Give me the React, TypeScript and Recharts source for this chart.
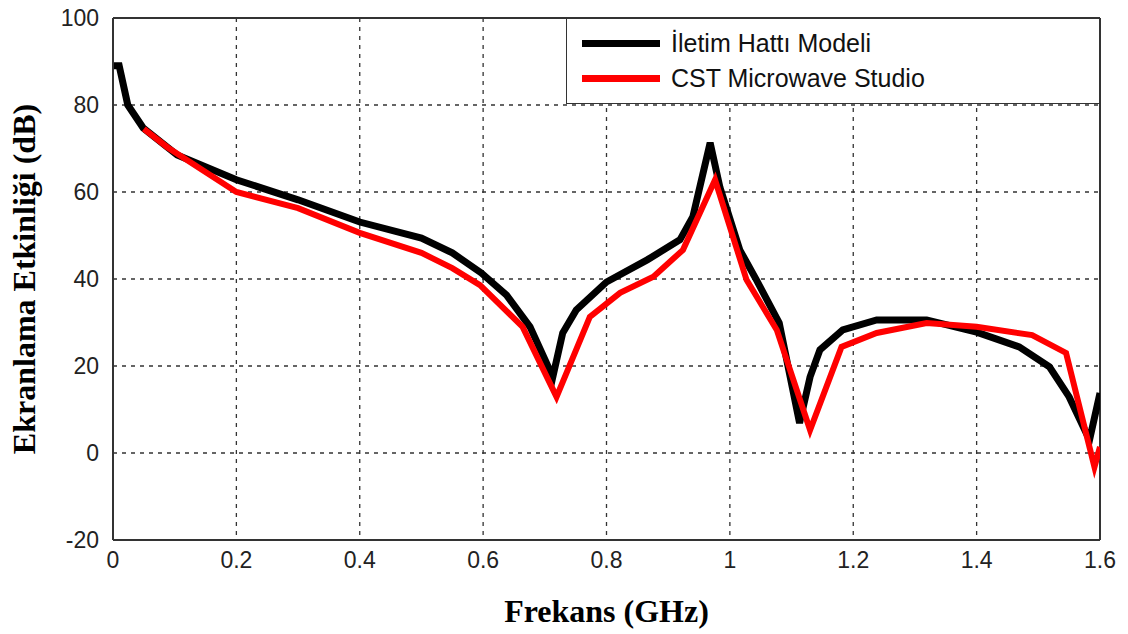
import {
  CartesianGrid,
  Line,
  LineChart,
  ReferenceLine,
  XAxis,
  YAxis
} from "recharts";

// İletim Hattı Modeli (black)
const modelFreq = [0, 0.01, 0.024, 0.049, 0.104, 0.2, 0.3, 0.4, 0.5, 0.55, 0.597, 0.638, 0.676, 0.713, 0.729, 0.751, 0.8, 0.866, 0.919, 0.94, 0.968, 0.984, 1.016, 1.043, 1.08, 1.113, 1.13, 1.146, 1.183, 1.238, 1.319, 1.4, 1.469, 1.518, 1.55, 1.583, 1.6];
const modelSE = [89, 89, 80, 74.7, 68.5, 62.8, 58.2, 53.1, 49.4, 46, 41.4, 36.3, 29, 17.5, 27.6, 32.9, 39.3, 44.4, 49, 54.3, 71.3, 61, 46.7, 39.8, 29.9, 6.9, 17.5, 23.7, 28.3, 30.6, 30.6, 27.8, 24.4, 19.8, 12.9, 3, 13.8];

// CST Microwave Studio (red)
const cstFreq = [0.05, 0.088, 0.2, 0.3, 0.4, 0.5, 0.55, 0.595, 0.664, 0.719, 0.773, 0.822, 0.876, 0.924, 0.976, 1.027, 1.076, 1.13, 1.181, 1.238, 1.319, 1.4, 1.49, 1.545, 1.591, 1.6];
const cstSE = [74.5, 70.3, 60, 56.3, 50.6, 46, 42.5, 38.6, 29, 12.9, 31.3, 36.8, 40.5, 46.7, 62.8, 39.8, 28.3, 5.3, 24.4, 27.6, 29.9, 29, 27.1, 23, -3.2, 1.4];

const xTicks = [0, 0.2, 0.4, 0.6, 0.8, 1, 1.2, 1.4, 1.6];
const yTicks = [-20, 0, 20, 40, 60, 80, 100];

const modelData = modelFreq.map((f, i) => ({ f, se: modelSE[i] }));
const cstData = cstFreq.map((f, i) => ({ f, se: cstSE[i] }));

const tickStyle = { fill: "#222", fontSize: 23, fontFamily: "Liberation Sans, Arial, sans-serif" };
const labelFont = "Liberation Serif, 'Times New Roman', serif";

function LegendBox() {
  const items = [
    { name: "İletim Hattı Modeli", color: "#000" },
    { name: "CST Microwave Studio", color: "#ff0000" }
  ];
  return (
    <div
      style={{
        position: "absolute",
        left: 566,
        top: 18,
        width: 534,
        height: 86,
        border: "1.5px solid #333",
        background: "#fff",
        boxSizing: "border-box",
        paddingTop: 7
      }}
    >
      {items.map((it) => (
        <div key={it.name} style={{ display: "flex", alignItems: "center", height: 35 }}>
          <div style={{ width: 78, height: 7, background: it.color, marginLeft: 15, marginRight: 11 }} />
          <span style={{ fontFamily: "Liberation Sans, Arial, sans-serif", fontSize: 25, color: "#111" }}>{it.name}</span>
        </div>
      ))}
    </div>
  );
}

export default function App() {
  return (
    <div style={{ position: "absolute", left: 0, top: 0, width: 1128, height: 634, background: "#fff" }}>
      <LineChart width={1128} height={634} margin={{ top: 18, right: 28, bottom: 0, left: 0 }}>
        <CartesianGrid stroke="#333" strokeDasharray="4 5" strokeWidth={1.3} />
        <XAxis
          type="number"
          dataKey="f"
          domain={[0, 1.6]}
          ticks={xTicks}
          tickFormatter={(v) => String(v)}
          tick={tickStyle}
          tickLine={false}
          axisLine={{ stroke: "#333", strokeWidth: 2 }}
          tickMargin={6}
          height={94}
          allowDataOverflow
          label={{
            value: "Frekans (GHz)",
            position: "insideBottom",
            offset: 12,
            style: { fontFamily: labelFont, fontWeight: "bold", fontSize: 32, fill: "#000" }
          }}
        />
        <YAxis
          type="number"
          domain={[-20, 100]}
          ticks={yTicks}
          tick={tickStyle}
          tickLine={false}
          axisLine={{ stroke: "#333", strokeWidth: 2 }}
          tickMargin={8}
          width={113}
          allowDataOverflow
          label={{
            value: "Ekranlama Etkinliği (dB)",
            angle: -90,
            position: "insideLeft",
            offset: 24,
            style: { fontFamily: labelFont, fontWeight: "bold", fontSize: 32, fill: "#000", textAnchor: "middle" }
          }}
        />
        <ReferenceLine y={100} stroke="#333" strokeWidth={2} />
        <ReferenceLine x={1.6} stroke="#333" strokeWidth={2} />
        <Line
          data={modelData}
          dataKey="se"
          name="İletim Hattı Modeli"
          type="linear"
          stroke="#000"
          strokeWidth={7}
          dot={false}
          isAnimationActive={false}
        />
        <Line
          data={cstData}
          dataKey="se"
          name="CST Microwave Studio"
          type="linear"
          stroke="#ff0000"
          strokeWidth={6}
          dot={false}
          isAnimationActive={false}
        />
      </LineChart>
      <LegendBox />
    </div>
  );
}
